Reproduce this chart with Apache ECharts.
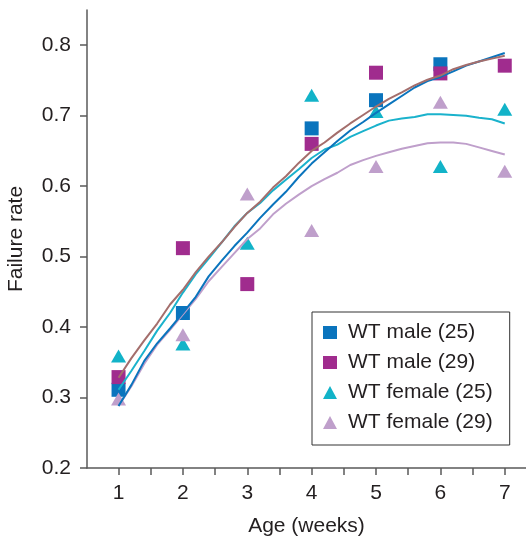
<!DOCTYPE html>
<html>
<head>
<meta charset="utf-8">
<script src="https://cdn.jsdelivr.net/npm/echarts@6/dist/echarts.min.js"></script>
<style>
  html, body { margin: 0; padding: 0; background: #fff; }
  #chart { width: 526px; height: 537px; }
</style>
</head>
<body>
<div id="chart"></div>
<script>
// Observed failure rate by age, one value per week
const weeks = [1, 2, 3, 4, 5, 6, 7];
const maleWT25 = [0.311, 0.420, null, 0.682, 0.722, 0.773, null];
const maleWT29 = [0.329, 0.512, 0.461, 0.660, 0.761, 0.760, 0.771];
const femaleWT25 = [0.359, 0.376, 0.519, 0.729, 0.706, 0.628, 0.709];
const femaleWT29 = [0.298, 0.389, 0.589, 0.537, 0.628, 0.719, 0.621];

// Smoothed trend for each group
const trendAge = [1.0, 1.2, 1.4, 1.6, 1.8, 2.0, 2.2, 2.4, 2.6, 2.8, 3.0, 3.2, 3.4, 3.6, 3.8, 4.0,
                  4.2, 4.4, 4.6, 4.8, 5.0, 5.2, 5.4, 5.6, 5.8, 6.0, 6.2, 6.4, 6.6, 6.8, 7.0];
const trendMale25 = [0.288, 0.318, 0.352, 0.377, 0.398, 0.420, 0.443, 0.472, 0.494, 0.515, 0.534,
                     0.555, 0.574, 0.592, 0.613, 0.632, 0.648, 0.664, 0.679, 0.691, 0.704, 0.716,
                     0.728, 0.740, 0.749, 0.755, 0.763, 0.771, 0.777, 0.783, 0.789];
const trendMale29 = [0.328, 0.356, 0.381, 0.405, 0.432, 0.453, 0.478, 0.500, 0.520, 0.542, 0.562,
                     0.578, 0.598, 0.614, 0.633, 0.650, 0.662, 0.676, 0.689, 0.701, 0.713, 0.724,
                     0.733, 0.743, 0.751, 0.757, 0.766, 0.772, 0.777, 0.781, 0.785];
const trendFemale25 = [0.311, 0.338, 0.366, 0.395, 0.420, 0.449, 0.475, 0.497, 0.520, 0.543, 0.562,
                       0.576, 0.594, 0.609, 0.624, 0.640, 0.652, 0.659, 0.670, 0.678, 0.686, 0.693,
                       0.696, 0.698, 0.702, 0.702, 0.701, 0.700, 0.697, 0.695, 0.689];
const trendFemale29 = [0.288, 0.316, 0.348, 0.375, 0.396, 0.418, 0.440, 0.465, 0.485, 0.505, 0.525,
                       0.540, 0.560, 0.575, 0.588, 0.600, 0.610, 0.619, 0.630, 0.637, 0.643, 0.648,
                       0.653, 0.657, 0.661, 0.662, 0.662, 0.660, 0.655, 0.650, 0.645];

const xTickValues = [1, 1.5, 2, 2.5, 3, 3.5, 4, 4.5, 5, 5.5, 6, 6.5, 7];
const xLabelValues = [1, 2, 3, 4, 5, 6, 7];
const yTickValues = [0.2, 0.3, 0.4, 0.5, 0.6, 0.7, 0.8];

const groupNames = ['WT male (25)', 'WT male (29)', 'WT female (25)', 'WT female (29)'];
const colors = {
  male25: '#0a74bd',
  male29: '#a02c8e',
  female25: '#12b3c8',
  female29: '#bf9fcb',
  line29: '#a46e6c',
  line25f: '#1ab2cc'
};

const FONT = 'Liberation Sans, Arial, Helvetica, sans-serif';
const AXIS_COLOR = '#5a5a5a';
const TEXT_COLOR = '#231f20';

function pairs(xs, ys) {
  const out = [];
  xs.forEach((x, i) => { if (ys[i] !== null) out.push([x, ys[i]]); });
  return out;
}

function pointSeries(name, values, symbol, size, color) {
  return {
    type: 'scatter', name: name, data: pairs(weeks, values),
    symbol: symbol, symbolSize: size,
    itemStyle: { color: color, opacity: 1 },
    z: 2
  };
}

function trendSeries(values, color) {
  return {
    type: 'line', data: pairs(trendAge, values),
    showSymbol: false, smooth: false,
    lineStyle: { color: color, width: 2 },
    silent: true, z: 3
  };
}

const chart = echarts.init(document.getElementById('chart'), null, { renderer: 'canvas' });
chart.setOption({
  animation: false,
  backgroundColor: '#ffffff',
  textStyle: { fontFamily: FONT },
  grid: { left: 87, right: 0, top: 10, bottom: 69, containLabel: false, outerBoundsMode: 'none' },
  xAxis: {
    type: 'value', min: 0.51, max: 7.33,
    name: 'Age (weeks)', nameLocation: 'middle', nameGap: 48,
    nameTextStyle: { fontSize: 21, color: TEXT_COLOR, fontFamily: FONT },
    axisLine: { show: true, onZero: false, lineStyle: { color: AXIS_COLOR, width: 1.5 } },
    axisTick: { show: true, inside: false, length: 7, customValues: xTickValues,
                lineStyle: { color: AXIS_COLOR, width: 1.5 } },
    axisLabel: { customValues: xLabelValues, fontSize: 21, color: TEXT_COLOR, margin: 15,
                 fontFamily: FONT },
    splitLine: { show: false }
  },
  yAxis: {
    type: 'value', min: 0.2, max: 0.85,
    name: 'Failure rate', nameLocation: 'middle', nameGap: 60, nameRotate: 90,
    nameTextStyle: { fontSize: 21, color: TEXT_COLOR, fontFamily: FONT },
    axisLine: { show: true, onZero: false, lineStyle: { color: AXIS_COLOR, width: 1.5 } },
    axisTick: { show: true, inside: false, length: 7, customValues: yTickValues,
                lineStyle: { color: AXIS_COLOR, width: 1.5 } },
    axisLabel: { customValues: yTickValues, fontSize: 21, color: TEXT_COLOR, margin: 16,
                 fontFamily: FONT, formatter: v => v.toFixed(1) },
    splitLine: { show: false }
  },
  legend: {
    data: groupNames,
    orient: 'vertical', left: 312, top: 312,
    borderColor: '#333', borderWidth: 1, borderRadius: 0,
    padding: [10, 17, 12, 11],
    itemWidth: 14, itemHeight: 13, itemGap: 9,
    textStyle: { fontSize: 21, color: TEXT_COLOR, fontFamily: FONT, padding: [0, 0, 0, 6] },
    selectedMode: false
  },
  series: [
    pointSeries(groupNames[0], maleWT25, 'rect', 14, colors.male25),
    pointSeries(groupNames[1], maleWT29, 'rect', 14, colors.male29),
    pointSeries(groupNames[2], femaleWT25, 'triangle', [15, 13], colors.female25),
    pointSeries(groupNames[3], femaleWT29, 'triangle', [15, 13], colors.female29),
    trendSeries(trendFemale29, colors.female29),
    trendSeries(trendFemale25, colors.line25f),
    trendSeries(trendMale25, colors.male25),
    trendSeries(trendMale29, colors.line29)
  ]
});
</script>
</body>
</html>
